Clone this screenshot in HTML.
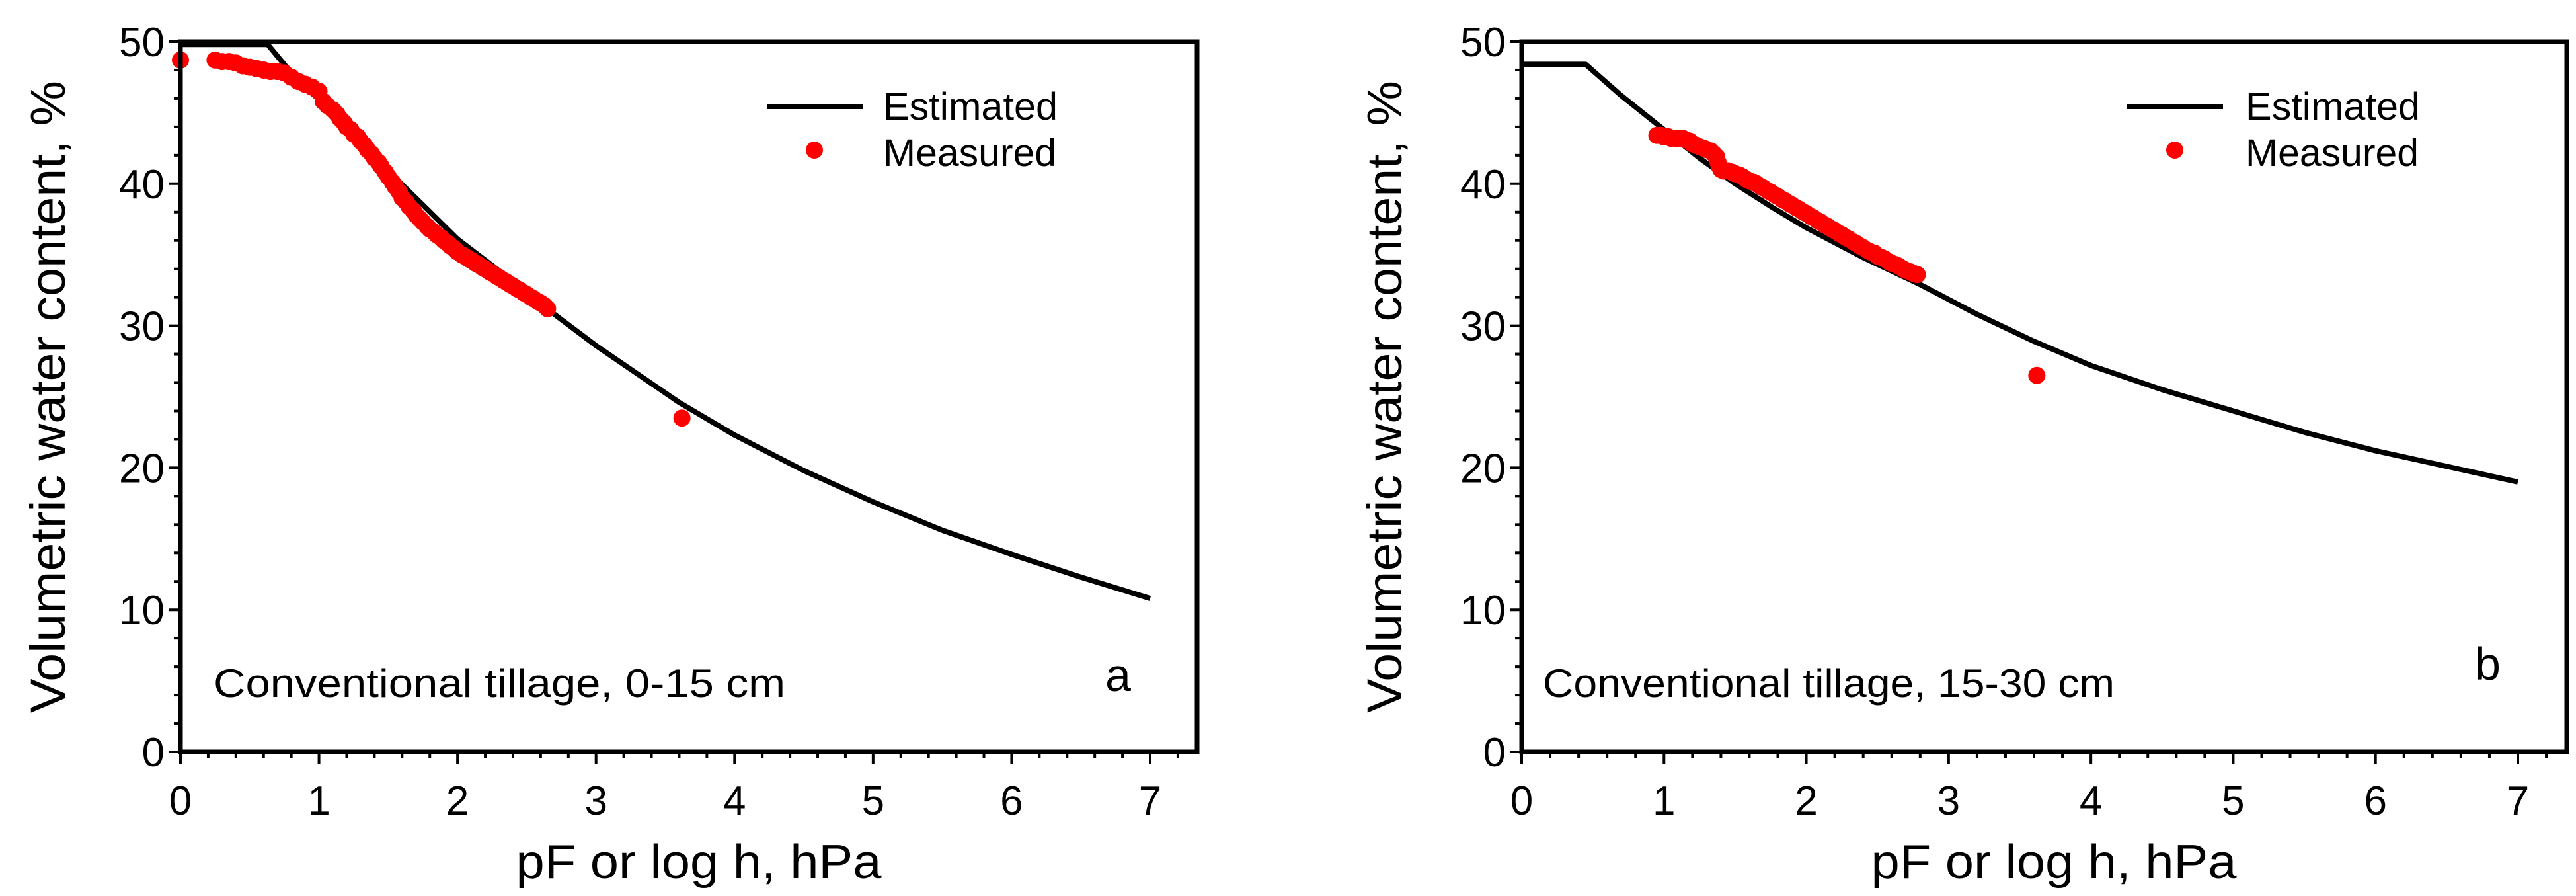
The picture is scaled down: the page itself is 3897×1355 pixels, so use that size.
<!DOCTYPE html>
<html><head><meta charset="utf-8"><style>html,body{margin:0;padding:0;background:#fff}svg{display:block}</style></head>
<body>
<svg id="chart" width="3897" height="1355" viewBox="0 0 3897 1355" xmlns="http://www.w3.org/2000/svg" font-family="'Liberation Sans', sans-serif"></svg>
<script>
const xTicks = [0,1,2,3,4,5,6,7];
const yTicks = [0,10,20,30,40,50];
const estA_x = [0,0.63,0.8,1.0,1.25,1.5,1.75,2.0,2.35,2.7,3.0,3.3,3.6,4.0,4.5,5.0,5.5,6.0,6.5,7.0];
const estA_y = [49.8,49.8,47.8,45.9,43.4,40.9,38.5,36.1,33.5,30.8,28.6,26.6,24.6,22.3,19.8,17.6,15.6,13.9,12.3,10.8];
const measA_x = [0,0.25,0.3,0.35,0.4,0.45,0.5,0.55,0.6,0.65,0.7,0.75,0.8,0.85,0.9,0.95,1.0,1.03,1.06,1.1,1.13,1.15,1.18,1.2,1.23,1.25,1.28,1.3,1.33,1.35,1.38,1.4,1.43,1.45,1.48,1.5,1.53,1.55,1.58,1.6,1.63,1.65,1.68,1.7,1.73,1.75,1.78,1.8,1.83,1.85,1.88,1.9,1.93,1.95,1.98,2.0,2.03,2.05,2.08,2.1,2.13,2.15,2.18,2.2,2.23,2.25,2.28,2.3,2.33,2.35,2.38,2.4,2.43,2.45,2.48,2.5,2.53,2.55,2.58,2.6,2.63,2.65,3.62];
const measA_y = [48.7,48.7,48.6,48.6,48.5,48.3,48.2,48.1,48.0,47.9,47.9,47.8,47.5,47.2,47.0,46.8,46.5,45.8,45.5,45.2,44.9,44.6,44.3,44.0,43.8,43.5,43.3,43.0,42.7,42.4,42.1,41.8,41.5,41.2,40.8,40.5,40.1,39.8,39.4,39.0,38.7,38.4,38.1,37.8,37.5,37.3,37.0,36.8,36.6,36.4,36.2,36.0,35.8,35.6,35.4,35.2,35.0,34.9,34.7,34.6,34.4,34.3,34.1,34.0,33.8,33.7,33.5,33.4,33.2,33.1,32.9,32.8,32.6,32.5,32.3,32.2,32.0,31.9,31.7,31.6,31.4,31.2,23.5];
const estB_x = [0,0.45,0.7,1.0,1.25,1.5,1.75,2.0,2.4,2.8,3.2,3.6,4.0,4.5,5.0,5.5,6.0,6.5,7.0];
const estB_y = [48.4,48.4,46.2,43.8,41.8,40.0,38.4,36.9,34.8,32.9,30.8,28.9,27.2,25.5,24.0,22.5,21.2,20.1,19.0];
const measB_x = [0.95,0.98,1.0,1.03,1.05,1.08,1.1,1.13,1.15,1.18,1.2,1.23,1.25,1.28,1.3,1.33,1.35,1.37,1.38,1.39,1.4,1.42,1.45,1.48,1.5,1.53,1.55,1.58,1.6,1.63,1.65,1.68,1.7,1.73,1.75,1.78,1.8,1.83,1.85,1.88,1.9,1.93,1.95,1.98,2.0,2.03,2.05,2.08,2.1,2.13,2.15,2.18,2.2,2.23,2.25,2.28,2.3,2.33,2.35,2.38,2.4,2.43,2.45,2.48,2.5,2.53,2.55,2.58,2.6,2.63,2.65,2.68,2.7,2.73,2.75,2.78,3.62];
const measB_y = [43.4,43.4,43.3,43.3,43.2,43.2,43.2,43.2,43.1,43.0,42.8,42.7,42.6,42.5,42.4,42.3,42.1,41.9,41.5,41.2,41.0,40.9,40.9,40.8,40.7,40.6,40.5,40.3,40.2,40.1,40.0,39.8,39.7,39.5,39.4,39.2,39.1,38.9,38.8,38.6,38.5,38.3,38.2,38.0,37.9,37.7,37.6,37.4,37.3,37.1,37.0,36.8,36.7,36.5,36.4,36.2,36.1,35.9,35.8,35.6,35.5,35.3,35.2,35.1,34.9,34.8,34.7,34.5,34.4,34.3,34.2,34.0,33.9,33.8,33.7,33.6,26.5];

const NS='http://www.w3.org/2000/svg';
const svg=document.getElementById('chart');
function mk(tag,attrs,parent){const e=document.createElementNS(NS,tag);for(const k in attrs)e.setAttribute(k,attrs[k]);(parent||svg).appendChild(e);return e;}

function panel(id,L,R,x7,T,B,ex,ey,mx,my,legX,legTxtX,note,noteX,letter,letterX,letterY,yTitleX,xTitleX){
  const g=mk('g',{});
  
  
  const sx=v=>L+(x7-L)*v/7;
  const sy=v=>B-(B-T)*v/50;
  for(let i=0;i<=36;i++){const v=i*0.2;const x=sx(v);if(x>R)break;const major=i%5===0;
    mk('line',{x1:x,x2:x,y1:B,y2:B+(major?18:10),stroke:'#000','stroke-width':4},g);}
  for(let i=0;i<=25;i++){const v=i*2;const major=i%5===0;
    mk('line',{x1:L,x2:L-(major?18:10),y1:sy(v),y2:sy(v),stroke:'#000','stroke-width':4},g);}
  xTicks.forEach(v=>{const t=mk('text',{x:sx(v),y:1232,'font-size':62,'text-anchor':'middle'},g);t.textContent=v;
    });
  yTicks.forEach(v=>{const t=mk('text',{x:L-24,y:sy(v)+22,'font-size':62,'text-anchor':'end'},g);t.textContent=v;
    });
  const pts=ex.map((v,i)=>sx(v)+','+sy(ey[i])).join(' ');
  const pl=mk('polyline',{points:pts,fill:'none',stroke:'#000','stroke-width':8,'stroke-linejoin':'round'},g);
  
  mx.forEach((v,i)=>{const c=mk('circle',{cx:sx(v),cy:sy(my[i]),r:13,fill:'#ff0000'},g);
    });
  const fr=mk('rect',{x:L,y:T,width:R-L,height:B-T,fill:'none',stroke:'#000','stroke-width':7},g);
  
  const ll=mk('line',{x1:legX,x2:legX+145,y1:161,y2:161,stroke:'#000','stroke-width':8},g);
  
  const lt1=mk('text',{x:legTxtX,y:181,'font-size':58,textLength:264,lengthAdjust:'spacingAndGlyphs'},g);lt1.textContent='Estimated';
  
  const ld=mk('circle',{cx:legX+72,cy:227,r:13,fill:'#ff0000'},g);
  
  const lt2=mk('text',{x:legTxtX,y:251,'font-size':58,textLength:262,lengthAdjust:'spacingAndGlyphs'},g);lt2.textContent='Measured';
  
  const n=mk('text',{x:noteX,y:1054,'font-size':60,textLength:865,lengthAdjust:'spacingAndGlyphs'},g);n.textContent=note;
  
  const lt=mk('text',{x:letterX,y:letterY,'font-size':70},g);lt.textContent=letter;
  
  const yt=mk('text',{x:0,y:0,'font-size':74,'text-anchor':'middle',textLength:956,lengthAdjust:'spacingAndGlyphs',transform:`translate(${yTitleX},600) rotate(-90)`},g);
  yt.textContent='Volumetric water content,  %';
  
  const xt=mk('text',{x:xTitleX,y:1328,'font-size':72,'text-anchor':'middle',textLength:553,lengthAdjust:'spacingAndGlyphs'},g);xt.textContent='pF or log h, hPa';
  
}
panel('a',273,1811,1740,63,1137,estA_x,estA_y,measA_x,measA_y,1160,1336,'Conventional tillage, 0-15 cm',323,'a',1672,1045,98,1057);
panel('b',2302,3883,3809,63,1137,estB_x,estB_y,measB_x,measB_y,3218,3397,'Conventional tillage, 15-30 cm',2334,'b',3744,1028,2120,3107);
</script>
</body></html>
